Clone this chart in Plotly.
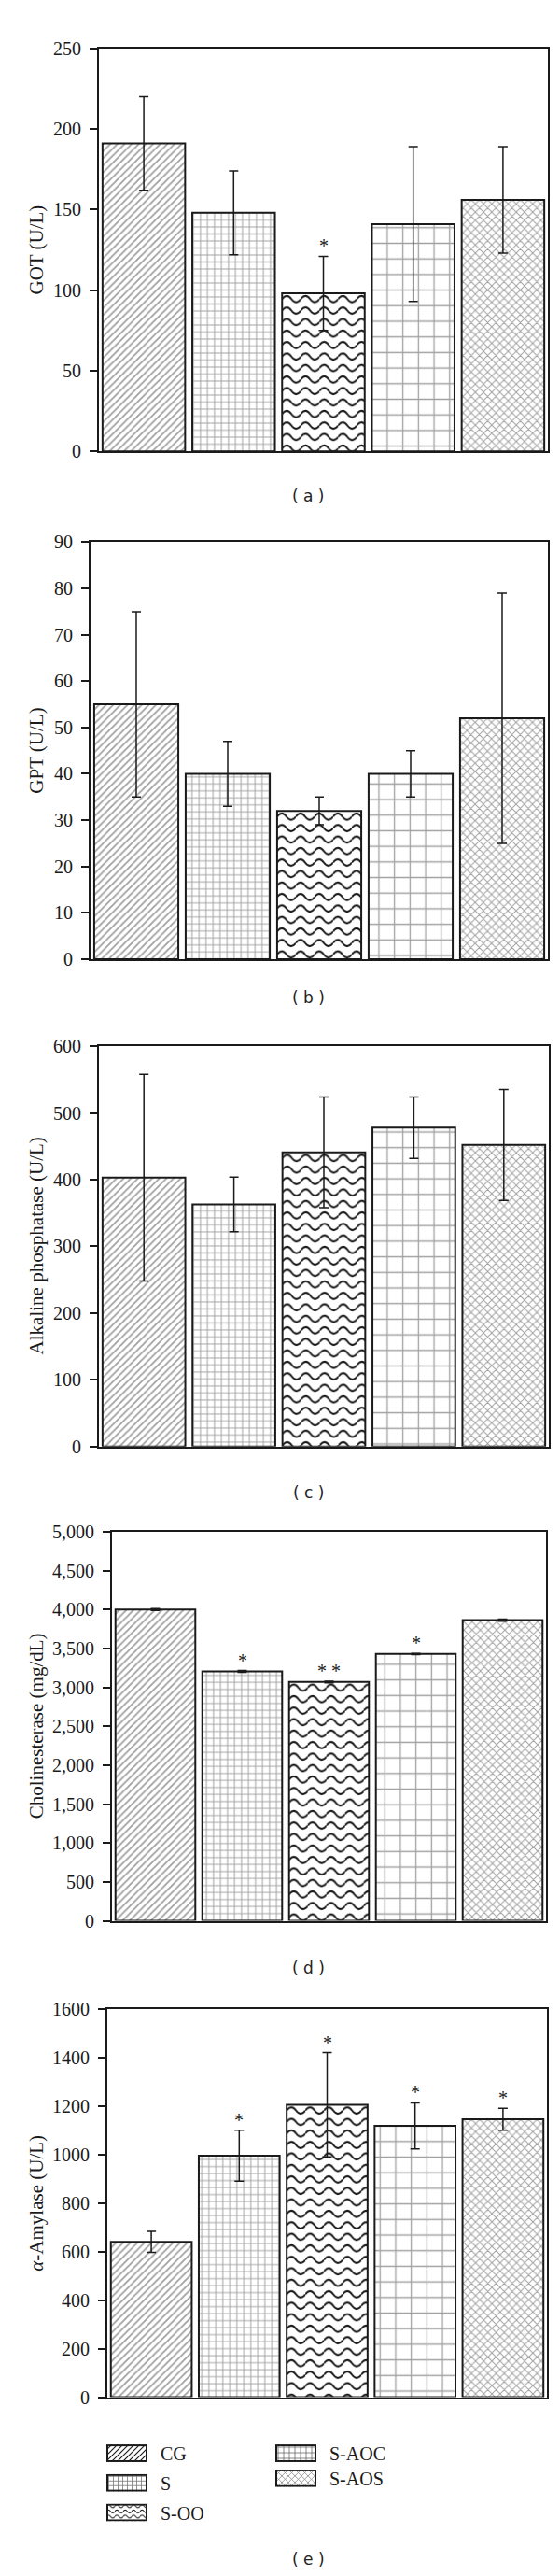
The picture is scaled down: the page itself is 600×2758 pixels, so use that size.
import base64
import plotly.graph_objects as go

groups = ["CG", "S", "S-OO", "S-AOC", "S-AOS"]

got = [191, 148, 98, 141, 156]
got_err = [29, 26, 23, 48, 33]
got_sig = ["", "", "*", "", ""]

gpt = [55, 40, 32, 40, 52]
gpt_err = [20, 7, 3, 5, 27]
gpt_sig = ["", "", "", "", ""]

alp = [403, 363, 441, 478, 452]
alp_err = [155, 41, 83, 46, 83]
alp_sig = ["", "", "", "", ""]

che = [4000, 3205, 3070, 3430, 3865]
che_err = [12, 12, 10, 8, 14]
che_sig = ["", "*", "* *", "*", ""]

amy = [640, 995, 1205, 1118, 1145]
amy_err = [43, 105, 215, 95, 45]
amy_sig = ["", "*", "*", "*", "*"]

titles = ["GOT (U/L)", "GPT (U/L)", "Alkaline phosphatase (U/L)",
          "Cholinesterase (mg/dL)", "<i>α</i>-Amylase (U/L)"]
letters = ["( a )", "( b )", "( c )", "( d )", "( e )"]

W, H = 600, 2758
# pixel boxes of the five plot areas: x0, x1, y0, y1
boxes = [(98, 579, 33, 468), (89, 579, 566, 1016), (98, 580, 1110, 1542),
         (112, 577, 1634, 2054), (107, 578, 2149, 2568)]
letter_y = [516, 1057, 1592, 2105, 2743]
yranges = [(250, 50, ""), (90, 10, ""), (600, 100, ""), (5000, 500, ","), (1600, 200, "")]
panels = [(got, got_err, got_sig), (gpt, gpt_err, gpt_sig), (alp, alp_err, alp_sig),
          (che, che_err, che_sig), (amy, amy_err, amy_sig)]

BARGAP = 0.08
SERIF = "Liberation Serif"
INK = "#1a1a1a"


def pattern_uri(kind, w, h, cell, stroke, color, border=0):
    if kind == "wave":
        tw, th = cell, cell * 0.62
        m = th / 2
        a = th * 0.28
        body = (f'<path d="M0,{m} Q{tw/4},{m-2*a} {tw/2},{m} T{tw},{m}" fill="none" '
                f'stroke="{color}" stroke-width="{stroke}"/>')
    elif kind == "diag":
        tw = th = cell
        c = cell
        body = (f'<path d="M0,{c} L{c},0 M{-c/2},{c/2} L{c/2},{-c/2} M{c/2},{1.5*c} L{1.5*c},{c/2}" '
                f'stroke="{color}" stroke-width="{stroke}"/>')
    elif kind == "grid":
        tw = th = cell
        body = (f'<path d="M{cell/2},0 V{cell} M0,{cell/2} H{cell}" '
                f'stroke="{color}" stroke-width="{stroke}"/>')
    else:
        tw = th = cell
        body = (f'<path d="M0,0 L{cell},{cell} M{cell},0 L0,{cell}" '
                f'stroke="{color}" stroke-width="{stroke}"/>')
    edge = ""
    if border:
        edge = (f'<rect x="{border/2}" y="{border/2}" width="{w-border}" height="{h-border}" '
                f'fill="none" stroke="{INK}" stroke-width="{border}"/>')
    svg = (f'<svg xmlns="http://www.w3.org/2000/svg" width="{w}" height="{h}" '
           f'viewBox="0 0 {w} {h}" preserveAspectRatio="none"><defs>'
           f'<pattern id="p" width="{tw}" height="{th}" patternUnits="userSpaceOnUse">{body}'
           f'</pattern></defs><rect width="{w}" height="{h}" fill="white"/>'
           f'<rect width="{w}" height="{h}" fill="url(#p)"/>{edge}</svg>')
    return "data:image/svg+xml;base64," + base64.b64encode(svg.encode()).decode()


shapes_ = ["/", "+", "", "+", "x"]
sizes = [5.4, 7.5, 8, 16.7, 6.2]
solid = [0.34, 0.25, 0.1, 0.15, 0.3]
fgs = ["#000000", "#6a6a6a", "#111111", "#4a4a4a", "#8a8a8a"]
fills = ["white", "white", "rgba(0,0,0,0)", "white", "white"]

fig = go.Figure()
images = []
annotations = []
layout = {}

for k, ((vals, errs, sig), (x0, x1, y0, y1), (ymax, dt, fmt)) in enumerate(zip(panels, boxes, yranges)):
    n = "" if k == 0 else str(k + 1)
    fig.add_trace(go.Bar(
        x=groups, y=vals, xaxis="x" + n, yaxis="y" + n,
        marker=dict(color=fills, line=dict(color=INK, width=2),
                    pattern=dict(shape=shapes_, size=sizes, solidity=solid,
                                 fgcolor=fgs, fillmode="overlay")),
        error_y=dict(type="data", array=errs, color=INK, thickness=1.5, width=5),
        showlegend=False,
    ))
    layout["xaxis" + n] = dict(domain=[x0 / W, x1 / W], range=[-0.5, 4.5], anchor="y" + n,
                              showline=True, linecolor=INK, linewidth=2, mirror=True,
                              showticklabels=False, ticks="", showgrid=False, zeroline=False)
    layout["yaxis" + n] = dict(domain=[1 - y1 / H, 1 - y0 / H], range=[0, ymax], dtick=dt,
                              anchor="x" + n, tickformat=fmt,
                              showline=True, linecolor=INK, linewidth=2, mirror=True,
                              ticks="outside", ticklen=8, tickwidth=2, tickcolor=INK,
                              ticklabelstandoff=5,
                              tickfont=dict(family=SERIF, size=20, color=INK),
                              showgrid=False, zeroline=False)

    # wavy fill for S-OO bar, drawn under the transparent bar
    i = groups.index("S-OO")
    bw = (1 - BARGAP) * (x1 - x0) / 5
    bh = vals[i] / ymax * (y1 - y0)
    images.append(dict(source=pattern_uri("wave", round(bw, 1), round(bh, 1), 20, 2, INK),
                       xref="x" + n + " domain", yref="y" + n,
                       x=(i + BARGAP / 2) / 5, y=vals[i], sizex=(1 - BARGAP) / 5, sizey=vals[i],
                       xanchor="left", yanchor="top", sizing="stretch", layer="below"))

    for g, v, e, s in zip(groups, vals, errs, sig):
        if s:
            annotations.append(dict(x=g, y=v + e, xref="x" + n, yref="y" + n, text=s,
                                    showarrow=False, yanchor="bottom", yshift=-2,
                                    font=dict(family=SERIF, size=20, color=INK)))

    annotations.append(dict(x=31 / W, y=1 - (y0 + y1) / 2 / H, xref="paper", yref="paper",
                            text=titles[k], textangle=-90, showarrow=False,
                            xanchor="center", yanchor="middle",
                            font=dict(family=SERIF, size=21, color=INK)))
    annotations.append(dict(x=322 / W, y=1 - letter_y[k] / H, xref="paper", yref="paper",
                            text=letters[k], showarrow=False,
                            xanchor="center", yanchor="middle",
                            font=dict(family="DejaVu Sans", size=17, color="#222")))

# legend drawn as swatches + labels
leg_kind = [("diag", 6, 1.1, "#111"), ("grid", 5, 0.8, "#777"), ("wave", 9, 1.1, "#222"),
            ("grid", 6, 0.8, "#666"), ("cross", 7, 0.8, "#888")]
leg_pos = [(106, 2619), (106, 2651), (106, 2683), (287, 2619), (287, 2646)]
for g, (kind, cell, sw, col), (lx, ly) in zip(groups, leg_kind, leg_pos):
    images.append(dict(source=pattern_uri(kind, 44, 19, cell, sw, col, border=2),
                       xref="paper", yref="paper", x=lx / W, y=1 - ly / H,
                       sizex=44 / W, sizey=19 / H, xanchor="left", yanchor="top",
                       sizing="stretch", layer="above"))
    annotations.append(dict(x=(lx + 56) / W, y=1 - (ly + 10) / H, xref="paper", yref="paper",
                            text=g, showarrow=False, xanchor="left", yanchor="middle",
                            font=dict(family=SERIF, size=20, color=INK)))

fig.update_layout(width=W, height=H, margin=dict(l=0, r=0, t=0, b=0),
                  paper_bgcolor="white", plot_bgcolor="white", bargap=BARGAP,
                  showlegend=False, images=images, annotations=annotations, **layout)
fig.write_html("out.html")
